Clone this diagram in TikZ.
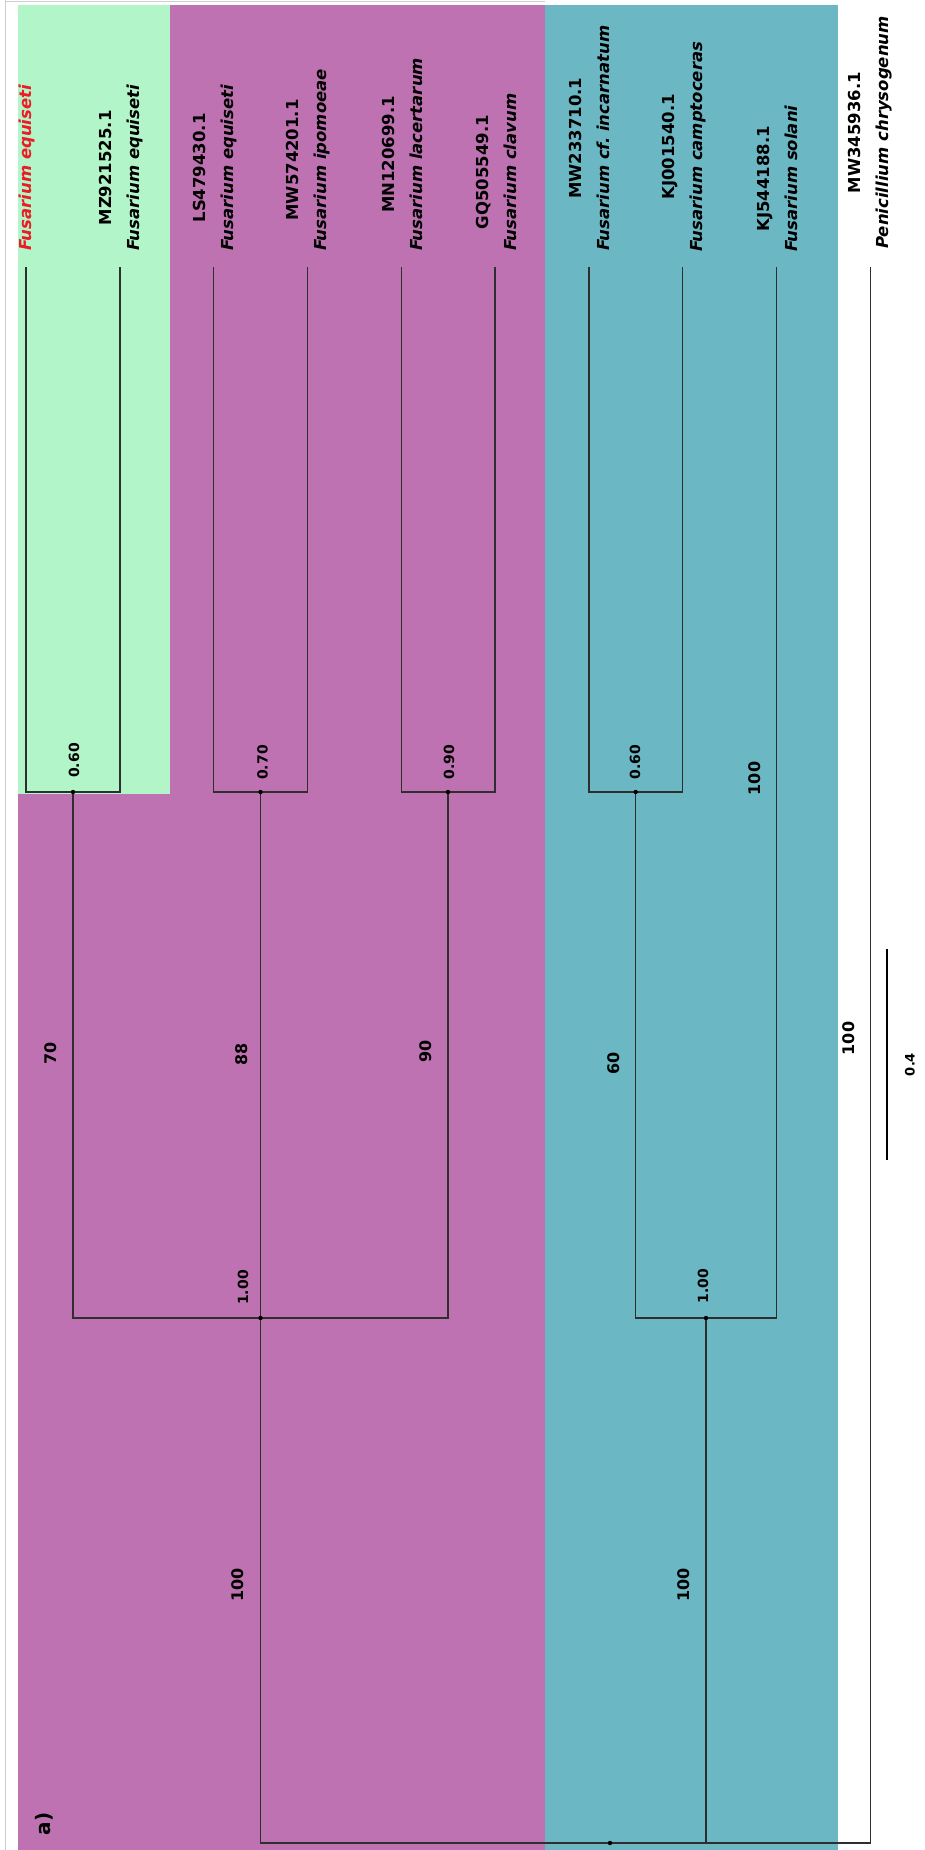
\documentclass[tikz,border=0pt]{standalone}
\usepackage{fontspec}
\setmainfont{DejaVu Sans}
\usepackage{xcolor}
\usetikzlibrary{positioning, calc}
\definecolor{CladeGreen}{HTML}{B2F5C8}
\definecolor{CladeMagenta}{HTML}{BF72B2}
\definecolor{CladeCyan}{HTML}{6BB7C4}
\definecolor{TreeLine}{HTML}{2E2E2E}
\definecolor{TaxonRed}{HTML}{EC1C24}
\definecolor{FrameGray}{HTML}{CFCFCF}
\tikzset{
    % Label styles - all rotated, reading upwards
    taxonlabel/.style={
        rotate=90,
        anchor=west,
        inner sep=0pt,
        align=center,
        font=\fontsize{16.5}{28}\selectfont\bfseries
    },
    postlabel/.style={
        rotate=90,
        inner sep=0pt,
        font=\fontsize{14}{14}\selectfont\bfseries
    },
    supportlabel/.style={
        rotate=90,
        inner sep=0pt,
        font=\fontsize{16}{16}\selectfont\bfseries
    },
    % Line styles
    branch/.style={
        draw=TreeLine,
        line width=1.4pt
    },
    nodedot/.style={
        fill=black
    },
    scalebar/.style={
        draw=black,
        line width=2.5pt
    }
}

\begin{document}
\begin{tikzpicture}[x=1pt, y=-1pt]
    \useasboundingbox (0,0) rectangle (924,1850);

    % Clade backgrounds
    \fill[CladeMagenta] (18,5) rectangle (545,1850);
    \fill[CladeGreen] (18,5) rectangle (170,794);
    \fill[CladeCyan] (545,5) rectangle (838,1850);
    \draw[FrameGray, line width=1pt] (5,0) -- (5,1850);
    \draw[FrameGray, line width=1pt] (5,1.5) -- (545,1.5);

    % Tips
    \foreach \i in {1,...,10}
        \coordinate (t\i) at ({26+93.8*(\i-1)},267);

    % Internal nodes
    \coordinate (n12) at (73,792);
    \coordinate (n34) at (260.5,792);
    \coordinate (n56) at (448,792);
    \coordinate (n78) at (635.7,792);
    \coordinate (nmag) at (260.5,1318);
    \coordinate (ncyan) at (706,1318);
    \coordinate (root) at (610,1843);

    % Branches
    \draw[branch] (t1) |- (n12) -| (t2);
    \draw[branch] (t3) |- (n34) -| (t4);
    \draw[branch] (t5) |- (n56) -| (t6);
    \draw[branch] (t7) |- (n78) -| (t8);
    \draw[branch] (n12) |- (nmag) -| (n56);
    \draw[branch] (n34) -- (nmag);
    \draw[branch] (n78) |- (ncyan) -| (t9);
    \draw[branch] (nmag) |- (root) -| (t10);
    \draw[branch] (ncyan) -- (ncyan |- root);

    % Node dots
    \foreach \n in {n12,n34,n56,n78,nmag,ncyan,root}
        \fill[nodedot] (\n) circle (2.2pt);

    % Taxa
    \node[taxonlabel,TaxonRed] (lab1) at (27,251) {\itshape Fusarium equiseti};
    \node[taxonlabel] (lab2) at (120.8,251) {MZ921525.1\\\itshape Fusarium equiseti};
    \node[taxonlabel] (lab3) at (214.6,251) {LS479430.1\\\itshape Fusarium equiseti};
    \node[taxonlabel] (lab4) at (308.4,251) {MW574201.1\\\itshape Fusarium ipomoeae};
    \node[taxonlabel] (lab5) at (402.2,251) {MN120699.1\\\itshape Fusarium lacertarum};
    \node[taxonlabel] (lab6) at (496,251) {GQ505549.1\\\itshape Fusarium clavum};
    \node[taxonlabel] (lab7) at (589.8,251) {MW233710.1\\\itshape Fusarium cf.\ incarnatum};
    \node[taxonlabel] (lab8) at (683.6,252) {KJ001540.1\\\itshape Fusarium camptoceras};
    \node[taxonlabel] (lab9) at (777.4,252) {KJ544188.1\\\itshape Fusarium solani};
    \node[taxonlabel] (lab10) at (870.2,249) {MW345936.1\\\itshape Penicillium chrysogenum};

    % Posterior probabilities
    \node[postlabel] (pp12) at (74,760.5) {0.60};
    \node[postlabel] (pp34) at (262.5,762.5) {0.70};
    \node[postlabel] (pp56) at (449,762) {0.90};
    \node[postlabel] (pp78) at (635,762) {0.60};
    \node[postlabel] (ppmag) at (243,1287.5) {1.00};
    \node[postlabel] (ppcyan) at (703,1286) {1.00};

    % Bootstrap values
    \node[supportlabel] (bs9) at (755,778.5) {100};
    \node[supportlabel] (bs12) at (51,1053) {70};
    \node[supportlabel] (bs34) at (241.5,1054) {88};
    \node[supportlabel] (bs56) at (426,1051.5) {90};
    \node[supportlabel] (bs78) at (614,1063.5) {60};
    \node[supportlabel] (bs10) at (849,1038.5) {100};
    \node[supportlabel] (bsmag) at (238,1585) {100};
    \node[supportlabel] (bscyan) at (684,1585) {100};

    % Scale bar
    \coordinate (sbtop) at (887,949);
    \coordinate (sbbot) at (887,1160);
    \draw[scalebar] (sbtop) -- (sbbot);
    \node[postlabel,font=\fontsize{13}{13}\selectfont\bfseries] (sblab) at (910,1064.5) {0.4};

    % Panel tag
    \node[rotate=90,inner sep=0pt,font=\fontsize{20}{20}\selectfont\bfseries] (tag) at (44,1824) {a)};
\end{tikzpicture}
\end{document}
